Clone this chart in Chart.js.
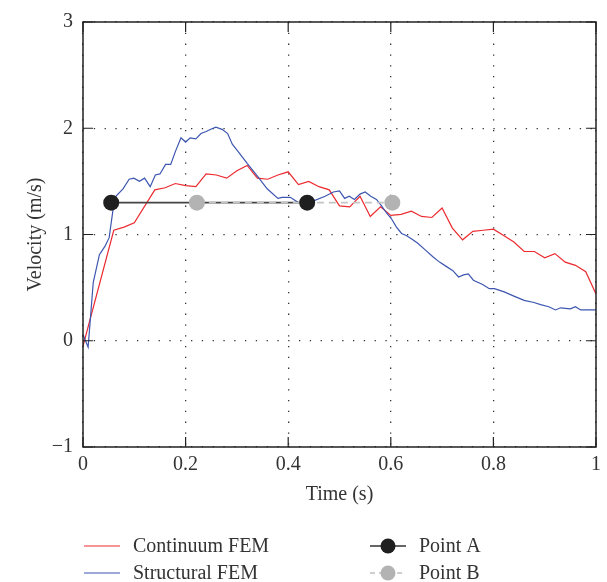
<!DOCTYPE html>
<html>
<head>
<meta charset="utf-8">
<title>Velocity</title>
<script src="https://cdn.jsdelivr.net/npm/chart.js@4"></script>
<style>
    body { margin: 0; background: #fff; }
    #velocityChart { display: block; }
</style>
</head>
<body>
<canvas id="velocityChart" width="607" height="582"></canvas>
<script>
// 連続体FEM（赤）
const continuumTime = [0, 0.06, 0.08, 0.10, 0.14, 0.16, 0.18, 0.20, 0.22, 0.24, 0.26, 0.28, 0.30, 0.32, 0.34, 0.36, 0.38, 0.40,
    0.42, 0.44, 0.46, 0.48, 0.50, 0.52, 0.54, 0.56, 0.58, 0.60, 0.62, 0.64, 0.66, 0.68, 0.70, 0.72, 0.74, 0.76, 0.78, 0.80,
    0.82, 0.84, 0.86, 0.88, 0.90, 0.92, 0.94, 0.96, 0.98, 1.00];
const continuumVelocity = [-0.05, 1.04, 1.07, 1.11, 1.42, 1.44, 1.48, 1.46, 1.45, 1.57, 1.56, 1.53, 1.60, 1.65, 1.53, 1.52, 1.56, 1.59,
    1.47, 1.50, 1.45, 1.42, 1.27, 1.26, 1.36, 1.17, 1.26, 1.18, 1.19, 1.22, 1.17, 1.16, 1.25, 1.06, 0.95, 1.03, 1.04, 1.05,
    0.99, 0.93, 0.84, 0.84, 0.78, 0.82, 0.74, 0.71, 0.65, 0.44];

// 構造FEM（青）
const structuralTime = [0, 0.01, 0.02, 0.032, 0.043, 0.051, 0.059, 0.064, 0.078, 0.09, 0.099, 0.11, 0.12, 0.131, 0.141, 0.15,
    0.161, 0.171, 0.18, 0.191, 0.20, 0.209, 0.22, 0.23, 0.24, 0.249, 0.259, 0.271, 0.282, 0.291, 0.301, 0.32, 0.34, 0.359,
    0.38, 0.388, 0.404, 0.42, 0.446, 0.472, 0.488, 0.50, 0.51, 0.519, 0.529, 0.54, 0.55, 0.561, 0.572, 0.582, 0.592, 0.601,
    0.611, 0.621, 0.63, 0.64, 0.652, 0.666, 0.682, 0.695, 0.708, 0.721, 0.732, 0.742, 0.751, 0.761, 0.779, 0.792, 0.802,
    0.821, 0.84, 0.86, 0.879, 0.892, 0.908, 0.921, 0.931, 0.95, 0.96, 0.97, 0.983, 1.0];
const structuralVelocity = [0.06, -0.06, 0.55, 0.81, 0.89, 0.97, 1.25, 1.36, 1.43, 1.52, 1.53, 1.50, 1.53, 1.45, 1.56, 1.57,
    1.66, 1.66, 1.78, 1.91, 1.87, 1.91, 1.90, 1.95, 1.97, 1.99, 2.01, 1.99, 1.95, 1.85, 1.79, 1.67, 1.55, 1.43,
    1.34, 1.35, 1.35, 1.30, 1.31, 1.36, 1.40, 1.41, 1.34, 1.36, 1.33, 1.38, 1.40, 1.36, 1.33, 1.27, 1.20, 1.15,
    1.07, 1.01, 0.99, 0.96, 0.92, 0.86, 0.79, 0.74, 0.70, 0.66, 0.60, 0.62, 0.63, 0.57, 0.53, 0.49, 0.49,
    0.46, 0.42, 0.38, 0.36, 0.34, 0.32, 0.29, 0.31, 0.30, 0.32, 0.29, 0.29, 0.29];

// 計測点A・B
const pointATime = [0.055, 0.437];
const pointAVelocity = [1.3, 1.3];
const pointBTime = [0.222, 0.603];
const pointBVelocity = [1.3, 1.3];

// 軸の目盛りラベル
const xTickLabels = ['0', '0.2', '0.4', '0.6', '0.8', '1'];
const yTickLabels = ['\u22121', '0', '1', '2', '3'];

const FONT_FAMILY = '"Liberation Serif", "DejaVu Serif", serif';
const TEXT_COLOR = '#333333';

const toPoints = (xs, ys) => xs.map((x, i) => ({ x: x, y: ys[i] }));

// 枠線と内向きの目盛り
const frameBoxPlugin = {
    id: 'frameBox',
    afterDraw(chart) {
        const { ctx, chartArea: area, scales } = chart;
        const tickLen = 10;
        ctx.save();
        ctx.strokeStyle = '#222222';
        ctx.lineWidth = 1.5;
        ctx.strokeRect(area.left, area.top, area.right - area.left, area.bottom - area.top);

        ctx.lineWidth = 1.2;
        ctx.beginPath();
        scales.x.ticks.forEach(t => {
            const px = scales.x.getPixelForValue(t.value);
            ctx.moveTo(px, area.bottom);
            ctx.lineTo(px, area.bottom - tickLen);
            ctx.moveTo(px, area.top);
            ctx.lineTo(px, area.top + tickLen);
        });
        scales.y.ticks.forEach(t => {
            const py = scales.y.getPixelForValue(t.value);
            ctx.moveTo(area.left, py);
            ctx.lineTo(area.left + tickLen, py);
            ctx.moveTo(area.right, py);
            ctx.lineTo(area.right - tickLen, py);
        });
        ctx.stroke();
        ctx.restore();
    }
};

// 下部の凡例（2列）
const bottomLegendPlugin = {
    id: 'bottomLegend',
    afterDraw(chart) {
        const ctx = chart.ctx;
        const items = chart.options.plugins.bottomLegend.items;
        ctx.save();
        ctx.font = '20px ' + FONT_FAMILY;
        ctx.textBaseline = 'middle';
        ctx.fillStyle = TEXT_COLOR;
        items.forEach(item => {
            ctx.save();
            ctx.strokeStyle = item.color;
            ctx.lineWidth = item.lineWidth;
            ctx.setLineDash(item.dash || []);
            ctx.beginPath();
            ctx.moveTo(item.x, item.y);
            ctx.lineTo(item.x + 36, item.y);
            ctx.stroke();
            ctx.restore();
            if (item.marker) {
                ctx.beginPath();
                ctx.fillStyle = item.marker;
                ctx.arc(item.x + 18, item.y, 7.5, 0, Math.PI * 2);
                ctx.fill();
                ctx.fillStyle = TEXT_COLOR;
            }
            ctx.fillText(item.label, item.x + 49, item.y + 1);
        });
        ctx.restore();
    }
};

class VelocityChart {
    constructor(canvasId) {
        this.canvas = document.getElementById(canvasId);
        this.chart = null;
        this.init();
    }

    init() {
        this.chart = new Chart(this.canvas.getContext('2d'), {
            type: 'line',
            data: { datasets: this.buildDatasets() },
            options: this.buildOptions(),
            plugins: [frameBoxPlugin, bottomLegendPlugin]
        });
    }

    buildDatasets() {
        const markerStyle = {
            showLine: false,
            borderWidth: 0,
            pointRadius: 8,
            pointBorderWidth: 0,
            pointHoverRadius: 8
        };
        return [
            // マーカーは最前面
            Object.assign({
                label: 'Point A',
                data: toPoints(pointATime, pointAVelocity),
                pointBackgroundColor: '#1f1f1f',
                order: 0
            }, markerStyle),
            Object.assign({
                label: 'Point B',
                data: toPoints(pointBTime, pointBVelocity),
                pointBackgroundColor: '#b3b3b3',
                order: 1
            }, markerStyle),
            {
                label: 'Point B line',
                data: toPoints(pointBTime, pointBVelocity),
                borderColor: '#c4c4c4',
                borderWidth: 1.8,
                borderDash: [7, 5],
                pointRadius: 0,
                order: 2
            },
            {
                label: 'Point A line',
                data: toPoints(pointATime, pointAVelocity),
                borderColor: '#444444',
                borderWidth: 1.6,
                pointRadius: 0,
                order: 3
            },
            {
                label: 'Structural FEM',
                data: toPoints(structuralTime, structuralVelocity),
                borderColor: '#3d56b0',
                borderWidth: 1.2,
                pointRadius: 0,
                tension: 0,
                order: 4
            },
            {
                label: 'Continuum FEM',
                data: toPoints(continuumTime, continuumVelocity),
                borderColor: '#ec2a2f',
                borderWidth: 1.2,
                pointRadius: 0,
                tension: 0,
                order: 5
            }
        ];
    }

    buildOptions() {
        const tickFont = { family: FONT_FAMILY, size: 20 };
        const dotted = { display: false, dash: [1.3, 9.5] };
        return {
            responsive: false,
            animation: false,
            layout: { padding: { left: 0, right: 7, top: 18, bottom: 75 } },
            plugins: {
                legend: { display: false },
                tooltip: { enabled: false },
                bottomLegend: {
                    items: [
                        { label: 'Continuum FEM', x: 84, y: 546, color: '#ec2a2f', lineWidth: 1.2 },
                        { label: 'Structural FEM', x: 84, y: 573, color: '#3d56b0', lineWidth: 1.2 },
                        { label: 'Point A', x: 370, y: 546, color: '#333333', lineWidth: 1.6, marker: '#1f1f1f' },
                        { label: 'Point B', x: 370, y: 573, color: '#c0c0c0', lineWidth: 1.6, dash: [5, 4], marker: '#b3b3b3' }
                    ]
                }
            },
            scales: {
                x: {
                    type: 'linear',
                    min: 0,
                    max: 1,
                    afterFit: scale => { scale.height = 60; },
                    ticks: {
                        stepSize: 0.2,
                        padding: 6,
                        color: TEXT_COLOR,
                        font: tickFont,
                        maxRotation: 0,
                        callback: (value, index) => xTickLabels[index]
                    },
                    grid: { color: '#333333', lineWidth: 1.3, drawTicks: false },
                    border: dotted,
                    title: {
                        display: true,
                        text: 'Time (s)',
                        color: TEXT_COLOR,
                        font: tickFont,
                        padding: { top: 0, bottom: 0 }
                    }
                },
                y: {
                    type: 'linear',
                    min: -1,
                    max: 3,
                    afterFit: scale => { scale.width = 83; },
                    ticks: {
                        stepSize: 1,
                        padding: 10,
                        color: TEXT_COLOR,
                        font: tickFont,
                        callback: (value, index) => yTickLabels[index]
                    },
                    grid: { color: '#333333', lineWidth: 1.3, drawTicks: false },
                    border: dotted,
                    title: {
                        display: true,
                        text: 'Velocity (m/s)',
                        color: TEXT_COLOR,
                        font: tickFont,
                        padding: { top: 24, bottom: 0 }
                    }
                }
            }
        };
    }
}

document.addEventListener('DOMContentLoaded', () => {
    window.velocityChart = new VelocityChart('velocityChart');
});
</script>
</body>
</html>
